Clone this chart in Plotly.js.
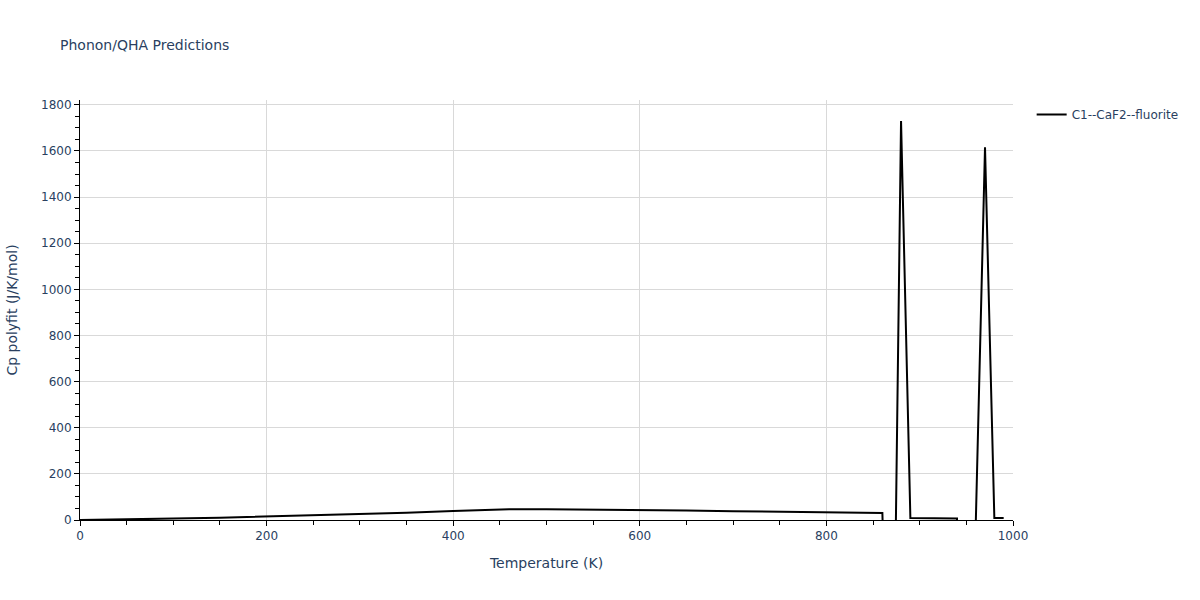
<!DOCTYPE html>
<html>
<head>
<meta charset="utf-8">
<script src="https://cdn.plot.ly/plotly-3.0.1.min.js"></script>
<style>html,body{margin:0;padding:0;background:#fff;}#chart{width:1200px;height:600px;}</style>
</head>
<body>
<div id="chart"></div>
<script>
var temperature = [0, 50, 100, 150, 200, 250, 300, 350, 400, 460, 500, 540, 600, 650, 700, 750, 800, 860, 870, 880, 890, 940, 950, 960, 970, 980, 990];
var cpPolyfit = [0, 2, 6, 10, 15, 19, 25, 31, 39, 47, 47, 46, 43, 41, 38, 36, 33, 30, -1415, 1730, 9, 7, -5000, -30, 1616, 9, 9];
var seriesName = "C1--CaF2--fluorite";

var trace = {
  x: temperature,
  y: cpPolyfit,
  type: "scatter",
  mode: "lines",
  name: seriesName,
  line: {color: "black", width: 2}
};

var layout = {
  width: 1200,
  height: 600,
  font: {family: "Verdana, 'DejaVu Sans', sans-serif", size: 12, color: "#2a3f5f"},
  title: {text: "Phonon/QHA Predictions", x: 0.05, xanchor: "left", y: 0.925, yanchor: "middle", font: {size: 14, color: "#2a3f5f"}},
  paper_bgcolor: "white",
  plot_bgcolor: "white",
  margin: {l: 80, r: 187, t: 100, b: 80},
  showlegend: true,
  legend: {x: 1.02, y: 1, xanchor: "left", yanchor: "top", font: {size: 12, color: "#2a3f5f"}},
  xaxis: {
    title: {text: "Temperature (K)", font: {size: 14, color: "#2a3f5f"}, standoff: 15},
    range: [0, 1000],
    showline: true, linecolor: "black", linewidth: 1,
    ticks: "outside", tickcolor: "black", ticklen: 5,
    showgrid: true, gridcolor: "#d9d9d9",
    zeroline: false,
    dtick: 200,
    tickfont: {size: 12, color: "#2a3f5f"},
    minor: {ticks: "outside", ticklen: 4, tickcolor: "black", dtick: 50, showgrid: false}
  },
  yaxis: {
    title: {text: "Cp polyfit (J/K/mol)", font: {size: 14, color: "#2a3f5f"}, standoff: 20},
    range: [0, 1821],
    showline: true, linecolor: "black", linewidth: 1,
    ticks: "outside", tickcolor: "black", ticklen: 5,
    showgrid: true, gridcolor: "#d9d9d9",
    zeroline: false,
    dtick: 200,
    tickfont: {size: 12, color: "#2a3f5f"},
    minor: {ticks: "outside", ticklen: 4, tickcolor: "black", dtick: 50, showgrid: false}
  }
};

Plotly.newPlot("chart", [trace], layout, {displayModeBar: false});
</script>
</body>
</html>
